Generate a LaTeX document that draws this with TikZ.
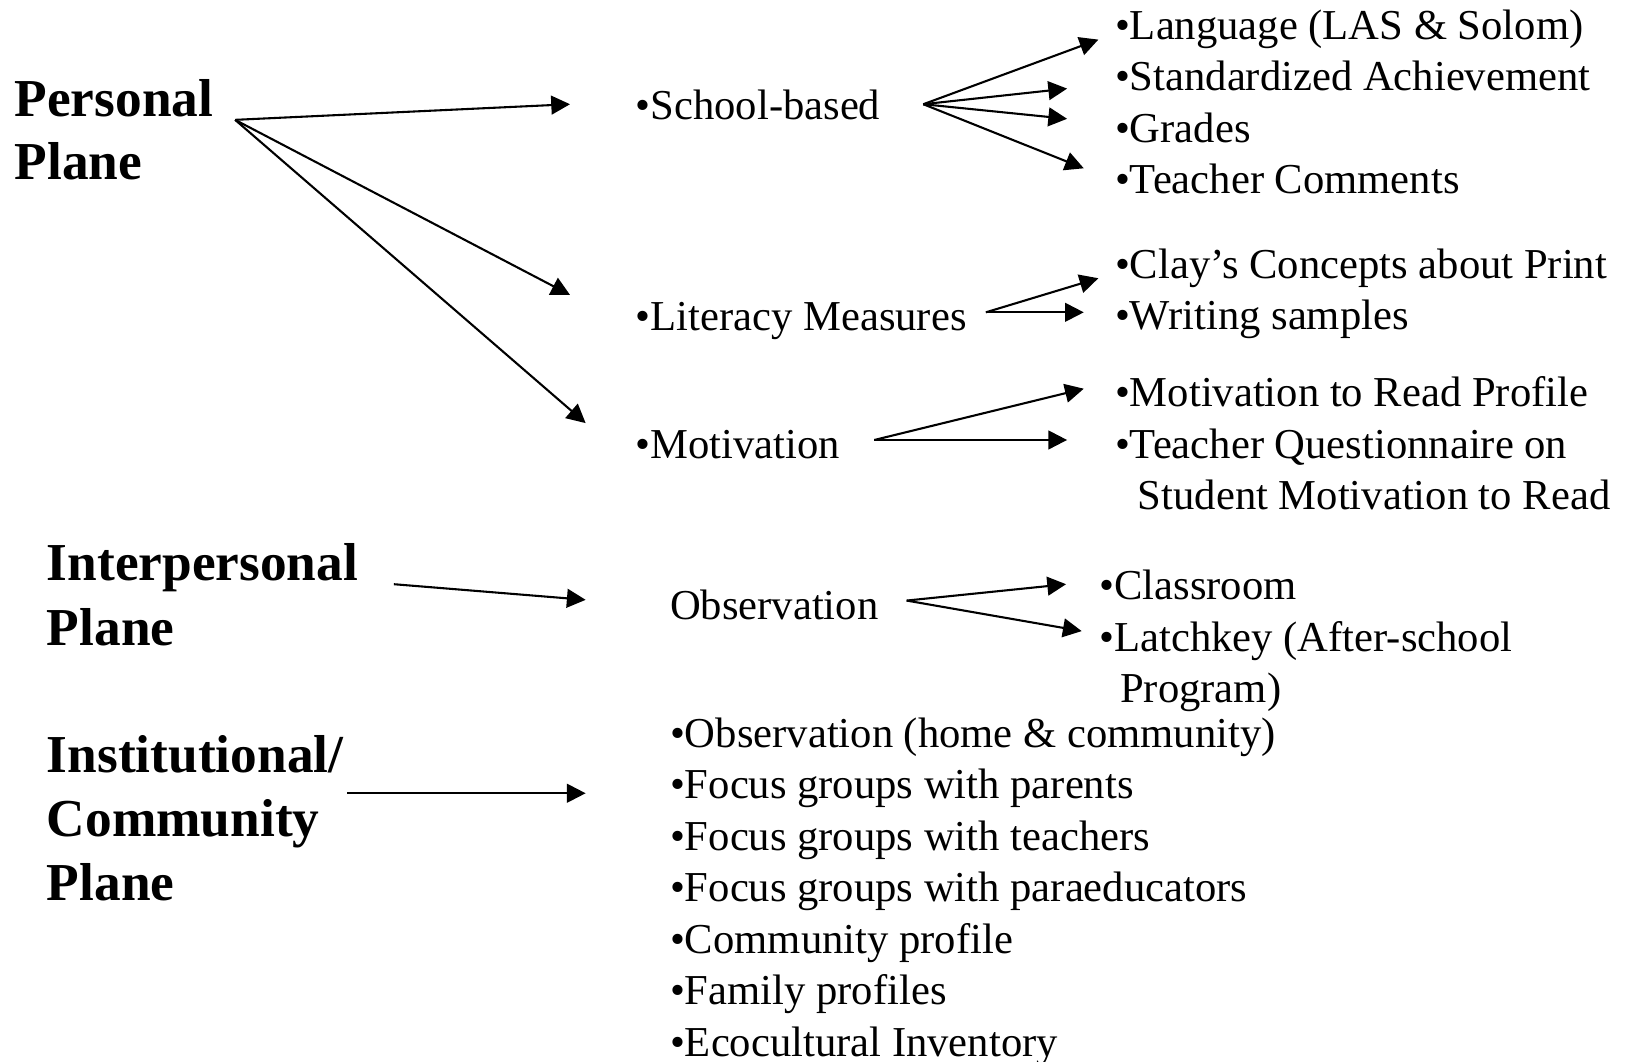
\documentclass[tikz,border=0pt]{standalone}
\usepackage{fontspec}
\setmainfont{Liberation Serif}
\usetikzlibrary{arrows.meta}
\begin{document}
\begin{tikzpicture}[x=0.5pt,y=-0.5pt,
  every node/.style={inner sep=0pt,outer sep=0pt,anchor=base west},
  txt/.style={font=\fontsize{20.45}{24}\selectfont},
  head/.style={font=\fontsize{25.6}{30}\selectfont\bfseries},
  arr/.style={line width=1pt,-{Triangle[length=9pt,width=9pt]}}]
\useasboundingbox (0,0) rectangle (1568,1019);
% headings
\node[head] (h1a) at (14,112) {Personal};
\node[head] (h1b) at (14,172.7) {Plane};
\node[head] (h2a) at (45,557.4) {Interpersonal};
\node[head] (h2b) at (45,619) {Plane};
\node[head] (h3a) at (45,741.6) {Institutional/};
\node[head] (h3b) at (45,802.9) {Community};
\node[head] (h3c) at (45,864.5) {Plane};
% middle column
\node[txt] (sb) at (610,114.2) {•School-based};
\node[txt] (lm) at (610,316.7) {•Literacy Measures};
\node[txt] (mo) at (610,439.5) {•Motivation};
\node[txt] (ob) at (643,594) {Observation};
% right column
\node[txt] (r1) at (1070,37.7) {•Language (LAS \& Solom)};
\node[txt] (r2) at (1070,87) {•Standardized Achievement};
\node[txt] (r3) at (1070,136.3) {•Grades};
\node[txt] (r4) at (1070,185.6) {•Teacher Comments};
\node[txt] (r5) at (1070,267) {•Clay’s Concepts about Print};
\node[txt] (r6) at (1070,316.5) {•Writing samples};
\node[txt] (r7) at (1070,390) {•Motivation to Read Profile};
\node[txt] (r8) at (1070,439.5) {•Teacher Questionnaire on};
\node[txt] (r9) at (1092,488.8) {Student Motivation to Read};
\node[txt] (c1) at (1055,575.6) {•Classroom};
\node[txt] (c2) at (1055,625) {•Latchkey (After-school};
\node[txt] (c3) at (1075,674) {Program)};
% community list
\node[txt] (l1) at (643,717.2) {•Observation (home \& community)};
\node[txt] (l2) at (643,766.6) {•Focus groups with parents};
\node[txt] (l3) at (643,816) {•Focus groups with teachers};
\node[txt] (l4) at (643,865.4) {•Focus groups with paraeducators};
\node[txt] (l5) at (643,914.8) {•Community profile};
\node[txt] (l6) at (643,964.2) {•Family profiles};
\node[txt] (l7) at (643,1013.6) {•Ecocultural Inventory};
% connector points
\coordinate (pOut) at (225.6,115);
\coordinate (sbIn) at (547,100);
\coordinate (lmIn) at (547,283);
\coordinate (moIn) at (562,406);
\coordinate (sbOut) at (886,100);
\coordinate (r1In) at (1054,38);
\coordinate (r2In) at (1024,85);
\coordinate (r3In) at (1024,114);
\coordinate (r4In) at (1040,161.5);
\coordinate (lmOut) at (946,299.7);
\coordinate (r5In) at (1054,267);
\coordinate (r6In) at (1040,299.7);
\coordinate (moOut) at (839,422.2);
\coordinate (r7In) at (1040,373);
\coordinate (r8In) at (1024,422.2);
\coordinate (ipOut) at (378,560.6);
\coordinate (obIn) at (562,575.6);
\coordinate (obOut) at (870,576.3);
\coordinate (c1In) at (1023,560.6);
\coordinate (c2In) at (1038,605.6);
\coordinate (icOut) at (333,761.2);
\coordinate (l1In) at (562,761.2);
% arrows
\draw[arr] (pOut) -- (sbIn);
\draw[arr] (pOut) -- (lmIn);
\draw[arr] (pOut) -- (moIn);
\draw[arr] (sbOut) -- (r1In);
\draw[arr] (sbOut) -- (r2In);
\draw[arr] (sbOut) -- (r3In);
\draw[arr] (sbOut) -- (r4In);
\draw[arr] (lmOut) -- (r5In);
\draw[arr] (lmOut) -- (r6In);
\draw[arr] (moOut) -- (r7In);
\draw[arr] (moOut) -- (r8In);
\draw[arr] (ipOut) -- (obIn);
\draw[arr] (obOut) -- (c1In);
\draw[arr] (obOut) -- (c2In);
\draw[arr] (icOut) -- (l1In);
\end{tikzpicture}
\end{document}
